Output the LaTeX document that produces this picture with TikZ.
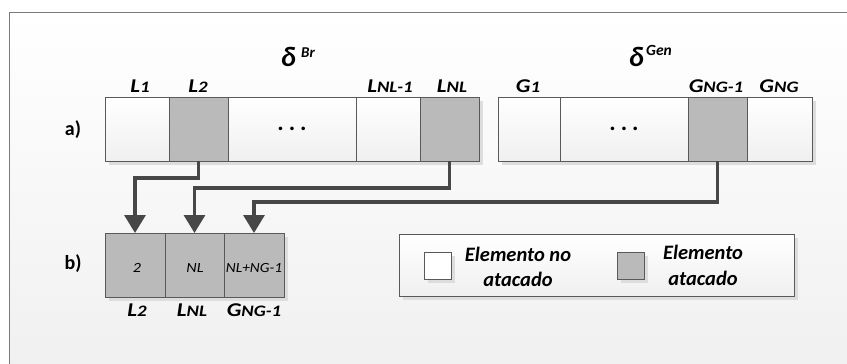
\documentclass[tikz,border=0pt]{standalone}
\usepackage{fontspec}
\setmainfont{Carlito}
\usetikzlibrary{arrows.meta}
\definecolor{edge}{HTML}{595959}
\definecolor{hit}{HTML}{BABABA}
\definecolor{wire}{HTML}{474747}
\definecolor{shade}{HTML}{DDDDDD}
\newcommand{\sub}[2]{\scalebox{1.18}[1]{\fontsize{19.5}{19.5}\selectfont\bfseries\itshape #1{\fontsize{16}{16}\selectfont #2}}}
\newcommand{\gap}{{\fontsize{24}{24}\selectfont\bfseries .\hspace{5pt}.\hspace{5pt}.}}
\tikzset{
  cell/.style={draw=edge, line width=0.8pt, minimum height=64pt, inner sep=0pt, outer sep=0pt,
    top color=white, bottom color=black!6},
  hitcell/.style={draw=edge, line width=0.8pt, minimum height=64pt, inner sep=0pt, outer sep=0pt, fill=hit},
  lbl/.style={anchor=base, inner sep=0pt},
  row/.style={anchor=base, inner sep=0pt, font=\fontsize{20}{20}\selectfont\bfseries},
  idx/.style={anchor=base, inner sep=0pt, font=\fontsize{14}{14}\selectfont\itshape},
  legtxt/.style={inner sep=0pt, align=center, font=\fontsize{20.5}{25}\selectfont\bfseries\itshape},
  conn/.style={draw=wire, line width=3.2pt, -{Triangle[width=21pt,length=18pt]}},
  drop/.style={fill=shade, draw=none}
}
\begin{document}
\begin{tikzpicture}[x=1pt,y=-1pt]
\useasboundingbox (0,0) rectangle (847,364);
% backdrop and frame
\shade[top color=white, bottom color=black!6] (9,12) rectangle (860,380);
\draw[edge!80, line width=0.8pt] (9,380) -- (9,12) -- (860,12);

% drop shadows
\fill[drop] (109,101) rectangle (483,165);
\fill[drop] (502,101) rectangle (816,165);
\fill[drop] (109,237) rectangle (288,301);
\fill[drop] (403,238) rectangle (798,300);

% row a: branch part
\node[cell, minimum width=64pt] (aL1) at (137,129) {};
\node[hitcell, minimum width=59pt] (aL2) at (198.5,129) {};
\node[cell, minimum width=128pt] (aDotsL) at (292,129) {\gap};
\node[cell, minimum width=64pt] (aLNm) at (388,129) {};
\node[hitcell, minimum width=59pt] (aLN) at (449.5,129) {};
% row a: generator part
\node[cell, minimum width=62pt] (aG1) at (529,129) {};
\node[cell, minimum width=128pt] (aDotsG) at (624,129) {\gap};
\node[hitcell, minimum width=59pt] (aGNm) at (717.5,129) {};
\node[cell, minimum width=65pt] (aGN) at (779.5,129) {};

% row a: labels
\node[lbl] (tL1) at (140,92) {\sub{L}{1}};
\node[lbl] (tL2) at (198,92) {\sub{L}{2}};
\node[lbl] (tLNm) at (390,92) {\sub{L}{NL-1}};
\node[lbl] (tLN) at (452,92) {\sub{L}{NL}};
\node[lbl] (tG1) at (528,92) {\sub{G}{1}};
\node[lbl] (tGNm) at (716,92) {\sub{G}{NG-1}};
\node[lbl] (tGN) at (779,92) {\sub{G}{NG}};

% vector names
\node[anchor=base east, inner sep=0pt] (dBr) at (296,66) {\fontsize{28}{28}\selectfont\bfseries\itshape δ};
\node[anchor=base west, inner sep=0pt] (sBr) at (301,57) {\fontsize{15}{15}\selectfont\bfseries\itshape Br};
\node[anchor=base east, inner sep=0pt] (dGen) at (644,66) {\fontsize{28}{28}\selectfont\bfseries\itshape δ};
\node[anchor=base west, inner sep=0pt] (sGen) at (646,56) {\fontsize{15.5}{15.5}\selectfont\bfseries\itshape Gen};

% row names
\node[row] (ra) at (73,135) {a)};
\node[row] (rb) at (73,269) {b)};

% row b
\node[hitcell, minimum width=60pt] (bL2) at (135,265) {};
\node[hitcell, minimum width=59pt] (bLN) at (194.5,265) {};
\node[hitcell, minimum width=60pt] (bGN) at (254,265) {};
\node[idx] (iL2) at (137,272) {\scalebox{1.15}[1]{2}};
\node[idx] (iLN) at (195,272) {\scalebox{1.15}[1]{NL}};
\node[idx] (iGN) at (254,272) {\scalebox{1.1}[1]{NL+NG-1}};
\node[lbl] (uL2) at (137,316) {\sub{L}{2}};
\node[lbl] (uLN) at (192,316) {\sub{L}{NL}};
\node[lbl] (uGN) at (254,316) {\sub{G}{NG-1}};

% connectors
\draw[conn] (aL2.south) -- ++(0,17) -| (bL2.north);
\draw[conn] (aLN.south) -- ++(0,27) -| (bLN.north);
\draw[conn] (aGNm.south) -- ++(0,41) -| (bGN.north);

% legend
\node[draw=edge, line width=0.8pt, top color=white, bottom color=black!6,
  minimum width=395pt, minimum height=62pt, inner sep=0pt] (leg) at (596.5,265) {};
\fill[drop] (428,256) rectangle (455,283);
\node[draw=edge, line width=0.8pt, fill=white, minimum size=27pt, inner sep=0pt] (kFree) at (437.5,265.5) {};
\fill[drop] (621,256) rectangle (648,283);
\node[draw=edge, line width=0.8pt, fill=hit, minimum size=27pt, inner sep=0pt] (kHit) at (630.5,265.5) {};
\node[legtxt, anchor=base] (tFree1) at (518,261) {Elemento no};
\node[legtxt, anchor=base] (tFree2) at (518,286) {atacado};
\node[legtxt, anchor=base] (tHit1) at (703,259) {Elemento};
\node[legtxt, anchor=base] (tHit2) at (703,285) {atacado};
\end{tikzpicture}
\end{document}
